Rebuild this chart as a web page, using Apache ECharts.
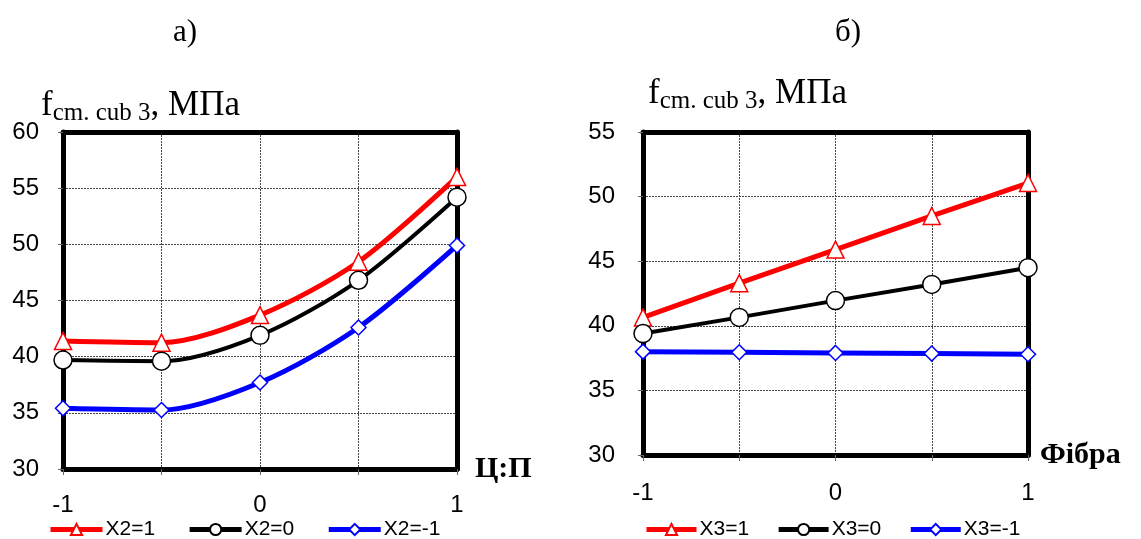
<!DOCTYPE html>
<html>
<head>
<meta charset="utf-8">
<script src="https://cdn.jsdelivr.net/npm/echarts@6/dist/echarts.min.js"></script>
<style>
  html, body { margin: 0; padding: 0; background: #fff; }
  #chart { width: 1141px; height: 539px; }
</style>
</head>
<body>
<div id="chart"></div>
<script>
const xLevels = [-1, -0.5, 0, 0.5, 1];

// а) Ц:П
const leftNames = ["X2=1", "X2=0", "X2=-1"];
const leftX2p1 = [41.4, 41.25, 43.7, 48.45, 56.0];
const leftX20 = [39.7, 39.6, 41.9, 46.8, 54.2];
const leftX2m1 = [35.4, 35.25, 37.7, 42.6, 49.9];

// б) Фібра
const rightNames = ["X3=1", "X3=0", "X3=-1"];
const rightX3p1 = [40.65, 43.3, 45.9, 48.5, 51.05];
const rightX30 = [39.4, 40.65, 41.95, 43.2, 44.5];
const rightX3m1 = [38.0, 37.95, 37.9, 37.85, 37.8];

const chart = echarts.init(document.getElementById("chart"));

const toPairs = (vals) => xLevels.map((x, i) => [x, vals[i]]);

const colors = ["#ff0000", "#000000", "#0000ff"];
const symbols = ["triangle", "circle", "diamond"];
const symbolSizes = [17, 18, 15];
const lineWidths = [5, 4, 5];

function makeSeries(names, sets, idx, smooth) {
  return sets.map((vals, i) => ({
    name: names[i],
    type: "line",
    xAxisIndex: idx * 2,
    yAxisIndex: idx * 2,
    data: toPairs(vals),
    smooth: smooth,
    symbol: symbols[i],
    symbolSize: symbolSizes[i],
    showAllSymbol: true,
    lineStyle: { color: colors[i], width: lineWidths[i] },
    itemStyle: { color: "#fff", borderColor: colors[i], borderWidth: 1.5 },
    emphasis: { disabled: true },
    z: 6
  }));
}

const frameLine = { show: true, onZero: false, lineStyle: { color: "#000", width: 5 } };
const gridLine = { show: true, lineStyle: { color: "#444", type: [2, 1], width: 1 } };

function xAxes(idx, name, gap, labelMargin) {
  return [{
    type: "value",
    gridIndex: idx,
    position: "bottom",
    min: -1,
    max: 1,
    interval: 0.5,
    name: name,
    nameLocation: "end",
    nameGap: gap,
    nameTextStyle: {
      fontFamily: "Liberation Serif",
      fontWeight: "bold",
      fontSize: 30,
      color: "#000",
      padding: [0, 0, 10, 0]
    },
    axisLine: frameLine,
    axisTick: { show: true, length: 6, lineStyle: { color: "#666" } },
    axisLabel: {
      margin: labelMargin,
      color: "#000",
      fontFamily: "Liberation Sans",
      fontSize: 24,
      formatter: (v) => (Number.isInteger(v) ? String(v) : "")
    },
    splitLine: gridLine,
    z: 2
  }, {
    type: "value",
    gridIndex: idx,
    position: "top",
    min: -1,
    max: 1,
    axisLine: frameLine,
    axisTick: { show: false },
    axisLabel: { show: false },
    splitLine: { show: false },
    z: 2
  }];
}

function yAxes(idx, max, labelMargin) {
  return [{
    type: "value",
    gridIndex: idx,
    position: "left",
    min: 30,
    max: max,
    interval: 5,
    axisLine: frameLine,
    axisTick: { show: true, length: 5, lineStyle: { color: "#666" } },
    axisLabel: {
      margin: labelMargin,
      color: "#000",
      fontFamily: "Liberation Sans",
      fontSize: 24
    },
    splitLine: gridLine,
    z: 2
  }, {
    type: "value",
    gridIndex: idx,
    position: "right",
    min: 30,
    max: max,
    axisLine: frameLine,
    axisTick: { show: false },
    axisLabel: { show: false },
    splitLine: { show: false },
    z: 2
  }];
}

const yNameRich = {
  m: { fontFamily: "Liberation Serif", fontSize: 35, fontWeight: "normal", color: "#000" },
  s: { fontFamily: "Liberation Serif", fontSize: 25, fontWeight: "normal", color: "#000", padding: [16, 0, 0, 0] }
};

const legendText = { fontFamily: "Liberation Sans", fontSize: 21, color: "#000", padding: [0, 0, 0, -2] };

chart.setOption({
  animation: false,
  title: [
    { text: "а)", left: 168, top: 12, textStyle: { fontFamily: "Liberation Serif", fontSize: 31, fontWeight: "normal", color: "#000" } },
    { text: "б)", left: 830, top: 12, textStyle: { fontFamily: "Liberation Serif", fontSize: 31, fontWeight: "normal", color: "#000" } },
    { text: "{m|f}{s|cm. cub 3}{m|, МПа}", left: 36, top: 80, textStyle: { fontWeight: "normal", rich: yNameRich } },
    { text: "{m|f}{s|cm. cub 3}{m|, МПа}", left: 643, top: 68, textStyle: { fontWeight: "normal", rich: yNameRich } }
  ],
  legend: [
    {
      data: leftNames,
      left: 43,
      top: 514,
      itemWidth: 52,
      itemHeight: 14,
      itemGap: 32,
      lineStyle: { width: 5 },
      textStyle: legendText
    },
    {
      data: rightNames,
      left: 639,
      top: 514,
      itemWidth: 50,
      itemHeight: 14,
      itemGap: 27,
      lineStyle: { width: 5 },
      textStyle: legendText
    }
  ],
  grid: [
    { left: 63, top: 132, width: 394, height: 337 },
    { left: 643, top: 132, width: 385, height: 323 }
  ],
  xAxis: [...xAxes(0, "Ц:П", 18, 24), ...xAxes(1, "Фібра", 12, 26)],
  yAxis: [...yAxes(0, 60, 24), ...yAxes(1, 55, 28)],
  series: [
    ...makeSeries(leftNames, [leftX2p1, leftX20, leftX2m1], 0, 0.3),
    ...makeSeries(rightNames, [rightX3p1, rightX30, rightX3m1], 1, false)
  ]
});
</script>
</body>
</html>
